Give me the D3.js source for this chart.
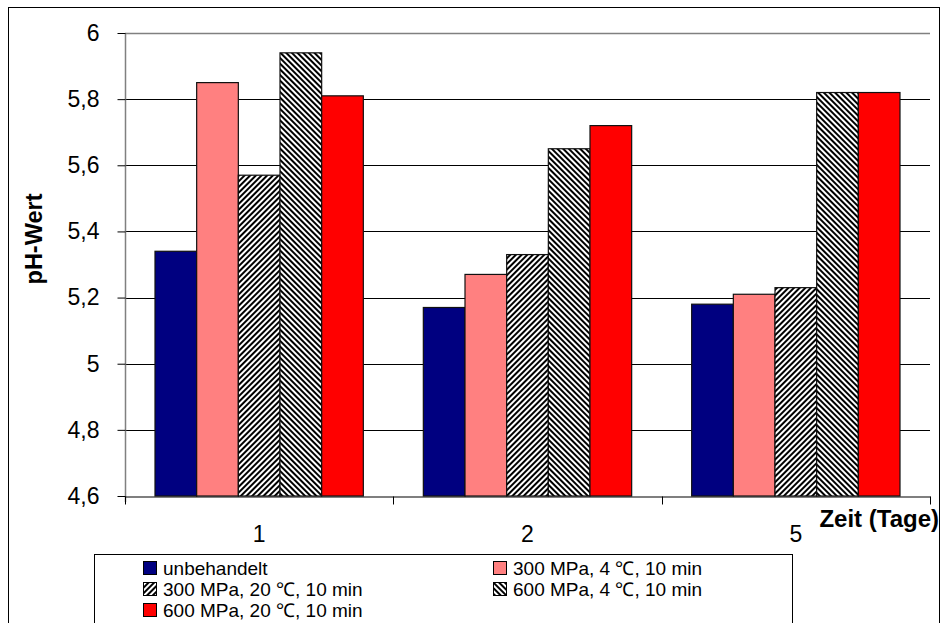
<!DOCTYPE html>
<html><head><meta charset="utf-8">
<script src="https://cdn.jsdelivr.net/npm/d3@7"></script>
<style>body{margin:0;background:#fff}svg{display:block;font-family:"Liberation Sans",Arial,sans-serif}</style>
</head><body>
<svg id="c" width="941" height="623"></svg>
<script>
const categories = ["1","2","5"];
const seriesNames = ["unbehandelt","300 MPa, 4 ℃, 10 min","300 MPa, 20 ℃, 10 min","600 MPa, 4 ℃, 10 min","600 MPa, 20 ℃, 10 min"];
const values = [
  [5.34, 5.17, 5.18],
  [5.85, 5.27, 5.21],
  [5.57, 5.33, 5.23],
  [5.94, 5.65, 5.82],
  [5.81, 5.72, 5.82]
];
const yTicks = [4.6, 4.8, 5, 5.2, 5.4, 5.6, 5.8, 6];
const fills = ["#000080","#FF8080","url(#hatchA)","url(#hatchB)","#FF0000"];

const svg = d3.select("#c");
const defs = svg.append("defs");
function hatch(id, angle){
  const p = defs.append("pattern").attr("id",id).attr("patternUnits","userSpaceOnUse")
    .attr("width",4).attr("height",4).attr("patternTransform",`rotate(${angle})`);
  p.append("rect").attr("width",4).attr("height",4).attr("fill","#fff");
  p.append("rect").attr("width",2).attr("height",4).attr("fill","#000");
}
hatch("hatchA", 45);
hatch("hatchB", -45);

// outer frame
svg.append("rect").attr("x",8.5).attr("y",7.5).attr("width",931).attr("height",640)
  .attr("fill","none").attr("stroke","#000").attr("stroke-width",1);

const L=125, R=930, T=33, B=496;
const x = d3.scaleBand().domain(categories).range([L,R]).paddingInner(0).paddingOuter(0);
const xs = d3.scaleBand().domain(d3.range(seriesNames.length)).range([0,x.bandwidth()]).paddingInner(0).paddingOuter(0.72);
const y = d3.scaleLinear().domain([4.6,6]).range([B,T]);

// gridlines
svg.append("g").selectAll("line").data(yTicks.slice(1,-1)).join("line")
  .attr("x1",L).attr("x2",R).attr("y1",d=>Math.round(y(d))+0.5).attr("y2",d=>Math.round(y(d))+0.5)
  .attr("stroke","#000").attr("stroke-width",1);
svg.append("line").attr("x1",L).attr("x2",R).attr("y1",T+0.5).attr("y2",T+0.5).attr("stroke","#808080").attr("stroke-width",1.5);

// bars
const g = svg.append("g");
seriesNames.forEach((s,i)=>{
  g.selectAll(null).data(values[i]).join("rect")
    .attr("x",(d,j)=>x(categories[j])+xs(i))
    .attr("y",d=>y(d))
    .attr("width",xs.bandwidth())
    .attr("height",d=>B-y(d))
    .attr("fill",fills[i])
    .attr("stroke","#111").attr("stroke-width",1.2);
});

// y axis
const ya = d3.axisLeft(y).tickValues(yTicks).tickSize(8).tickPadding(18)
  .tickFormat(d=>d3.format("")(d).replace(".",","));
const yg = svg.append("g").attr("transform",`translate(${L+0.5},0)`).call(ya);
yg.select(".domain").attr("stroke","#808080").attr("stroke-width",1.5).attr("d",`M0,${T}V${B+6}`);
yg.selectAll(".tick line").attr("stroke","#000");
yg.selectAll("text").attr("font-size",23).attr("fill","#000").attr("font-family","Liberation Sans, Arial");

// x axis
const xa = d3.axisBottom(x).tickSize(0).tickPadding(29);
const xg = svg.append("g").attr("transform",`translate(0,${B+0.5})`).call(xa);
xg.select(".domain").attr("stroke","#000").attr("stroke-width",1.2);
xg.selectAll("text").attr("font-size",23).attr("fill","#000").attr("font-family","Liberation Sans, Arial");
const bounds = categories.map(c=>x(c)).concat([R]);
xg.selectAll(".sep").data(bounds).join("line").attr("class","sep")
  .attr("x1",d=>Math.round(d)+0.5).attr("x2",d=>Math.round(d)+0.5).attr("y1",0).attr("y2",8)
  .attr("stroke","#000");

// axis titles
svg.append("text").attr("transform","translate(42,239) rotate(-90)").attr("text-anchor","middle")
  .attr("font-size",23.5).attr("font-weight","bold").text("pH-Wert");
svg.append("text").attr("x",939).attr("y",527).attr("text-anchor","end")
  .attr("font-size",24).attr("font-weight","bold").text("Zeit (Tage)");

// legend
svg.append("rect").attr("x",94.5).attr("y",554.5).attr("width",698).attr("height",100)
  .attr("fill","#fff").attr("stroke","#000").attr("stroke-width",1);
const legPos = [[143,568],[493,568],[143,589],[493,589],[143,610]];
seriesNames.forEach((s,i)=>{
  const [lx,ly]=legPos[i];
  svg.append("rect").attr("x",lx+0.5).attr("y",ly-6.5).attr("width",13).attr("height",13)
    .attr("fill",fills[i]).attr("stroke","#000").attr("stroke-width",1);
  svg.append("text").attr("x",lx+20).attr("y",ly+6.5).attr("font-size",19).text(s);
});
</script>
</body></html>
